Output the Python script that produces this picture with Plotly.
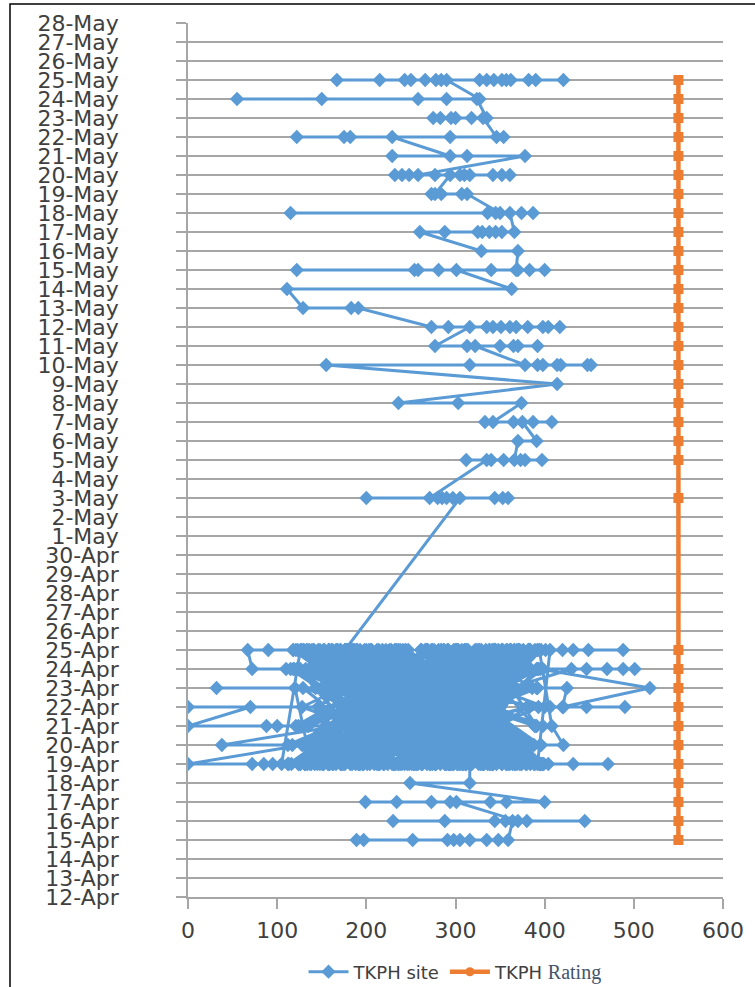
import plotly.graph_objects as go
import pandas as pd

# ---------------- data ----------------
# TKPH site, April part: day of April and value, in plotting order
apr_days = [
    15, 15, 15, 15, 15, 15, 15, 15, 15, 15,
    16, 16, 16, 16, 16, 16, 16, 16,
    17, 17, 17, 17, 17, 17, 17, 17,
    18, 18,
    # dense period 19-25 Apr
    19, 19, 19, 19, 25, 19, 24, 20, 25, 19, 23, 19, 25, 20, 24, 19, 25, 21, 25, 19,
    24, 20, 25, 19, 23, 20, 25, 19, 24, 19, 25, 21, 24, 19, 25, 20, 23, 19, 25, 22,
    19, 25, 20, 24, 19, 25, 21, 25, 19, 24,
    20, 25, 19, 23, 19, 25, 20, 24, 22, 19,
    25, 19, 24, 20, 25, 19, 23, 21, 25, 19,
    24, 19, 25, 20, 24, 19, 25, 22, 19, 25,
    21, 24, 19, 25, 20, 23, 19, 25, 19, 24,
    25, 20, 24, 19, 25, 21, 24, 19, 25, 20,
    19, 25, 20, 24, 19, 25, 21, 25, 19, 24,
    20, 25, 19, 23, 19, 25, 20, 24, 22, 19,
    25, 19, 24, 20, 25, 19, 23, 21, 25, 19,
    24, 19, 25, 20, 24, 19, 25, 22, 19, 25,
    19, 19, 19, 19, 19, 20, 25, 19, 24, 20, 25, 19, 24, 21, 25, 19, 23, 20, 25, 19,
    24, 21, 25, 19, 24, 20, 25, 19, 23, 19, 25, 20, 24, 19, 25, 21, 24, 19, 25, 20,
    20, 20, 21, 25, 19, 24, 20, 25, 19, 23, 19, 25, 21, 24, 19, 25, 20, 24, 19, 25,
    22, 22, 22, 21, 21, 21, 21, 25, 19, 24, 20, 25, 19, 23, 20, 25, 19, 24, 21, 25,
    21, 24, 19, 25, 20, 23, 19, 25, 19, 24,
    25, 20, 24, 19, 25, 21, 24, 19, 25, 20,
    19, 25, 20, 24, 19, 25, 21, 25, 19, 24,
    20, 25, 19, 23, 19, 25, 20, 24, 22, 19,
    25, 19, 24, 20, 25, 19, 23, 21, 25, 19,
    24, 19, 25, 20, 24, 19, 25, 22, 19, 25,
    21, 24, 19, 25, 20, 23, 19, 25, 19, 24,
    25, 20, 24, 19, 25, 21, 24, 19, 25, 20,
    19, 25, 20, 24, 19, 25, 21, 25, 19, 24,
    20, 25, 19, 23, 19, 25, 20, 24, 22, 19,
    19, 24, 20, 25, 19, 23, 23, 23, 24, 19, 25, 20, 24, 19, 25, 21, 24, 19, 25, 20,
    23, 19, 25, 21, 24, 19, 25, 20, 24, 19, 25, 22, 19, 24, 20, 25, 19, 23, 19, 25,
    21, 24, 19, 19, 19, 19, 19, 25, 20, 24, 19, 25, 21, 20, 20, 25, 19, 24, 20, 22,
    22, 22, 22, 22, 22, 24, 19, 25, 20, 24, 19, 25, 21, 24, 23, 22, 23, 23, 24, 19,
    25, 19, 24, 20, 25, 19, 23, 21, 25, 19,
    24, 19, 25, 20, 24, 19, 25, 22, 19, 25,
    21, 24, 19, 25, 20, 23, 19, 25, 19, 24,
    25, 20, 24, 19, 25, 21, 24, 19, 25, 20,
    19, 25, 20, 24, 19, 25, 21, 25, 19, 24,
    20, 25, 19, 23, 19, 25, 20, 24, 22, 19,
    25, 19, 24, 20, 25, 19, 23, 21, 25, 19,
    24, 19, 25, 20, 24, 19, 25, 22, 19, 25,
    21, 24, 19, 25, 20, 23, 19, 25, 19, 24,
    25, 20, 24, 19, 25, 21, 24, 19, 25, 20,
    25, 20, 24, 19, 25, 21, 24, 24, 24, 24, 24, 24, 19, 25, 20, 24, 19, 25, 23, 19,
    25, 21, 24, 19, 25, 25, 25, 25, 25, 25, 20, 24, 24, 24, 25, 25, 25, 25,
]
apr_values = [
    189, 197, 252, 291, 298, 305, 316, 335, 348, 359,
    364, 230, 288, 344, 356, 380, 445, 370,
    301, 294, 273, 234, 199, 339, 357, 400,
    249, 316,
    316, 330, 295, 262, 372, 188, 345, 152, 268, 388, 204, 142, 352, 274, 163, 361, 222, 306, 141, 283,
    392, 201, 312, 131, 368, 332, 193, 233, 281, 398, 123, 244, 354, 172, 401, 112, 262, 341, 171, 383,
    137, 284, 356, 201, 312, 148, 389, 226, 174, 331,
    263, 118, 342, 297, 209, 371, 156, 245, 318, 191,
    382, 229, 143, 307, 266, 359, 187, 334, 121, 278,
    214, 395, 161, 287, 348, 132, 303, 252, 369, 179,
    326, 147, 293, 238, 384, 169, 352, 206, 271, 115,
    361, 194, 249, 338, 127, 316, 272, 397, 184, 305,
    152, 343, 221, 376, 289, 139, 258, 324, 197, 364,
    283, 168, 395, 129, 236, 301, 377, 213, 146, 339,
    244, 374, 118, 259, 327, 192, 386, 154, 298, 231,
    319, 231, 177, 363, 142, 278, 218, 349, 262, 126,
    105, 95, 85, 72, 0, 128, 236, 214, 124, 362, 292, 152, 232, 391, 334, 258, 143, 302, 205, 318,
    178, 135, 376, 196, 304, 243, 158, 372, 318, 124, 247, 388, 145, 302, 212, 172, 376, 240, 287, 164,
    250, 38, 168, 358, 182, 262, 342, 134, 326, 236, 158, 322, 276, 196, 389, 184, 226, 336, 116, 274,
    200, 0, 70, 0, 88, 100, 214, 392, 268, 154, 314, 228, 176, 392, 138, 302, 352, 208, 352, 166,
    398, 136, 308, 186, 353, 247, 163, 291, 379, 203,
    171, 327, 264, 113, 382, 219, 336, 145, 241, 356,
    297, 183, 349, 224, 157, 392, 128, 273, 318, 207,
    133, 362, 238, 311, 196, 344, 289, 165, 393, 254,
    366, 214, 126, 384, 268, 151, 323, 236, 187, 342,
    228, 298, 371, 149, 315, 256, 198, 381, 134, 287,
    341, 122, 277, 203, 367, 174, 243, 312, 357, 162,
    189, 386, 155, 332, 233, 293, 141, 366, 276, 218,
    274, 167, 396, 241, 124, 338, 205, 281, 159, 373,
    117, 352, 212, 286, 394, 182, 361, 138, 329, 248,
    246, 366, 186, 338, 138, 120, 32, 150, 298, 294, 152, 372, 242, 204, 382, 124, 320, 384, 200, 282,
    172, 224, 262, 330, 132, 336, 310, 176, 384, 162, 232, 346, 312, 188, 222, 366, 126, 302, 272, 146,
    296, 258, 374, 404, 432, 471, 380, 284, 130, 352, 192, 394, 408, 421, 395, 244, 290, 170, 320, 380,
    406, 421, 447, 490, 400, 288, 148, 326, 254, 140, 364, 214, 262, 395, 518, 420, 425, 391, 342, 220,
    353, 251, 139, 372, 178, 306, 267, 222, 389, 131,
    206, 318, 383, 166, 296, 126, 345, 259, 193, 314,
    389, 197, 263, 329, 143, 376, 184, 307, 236, 156,
    158, 276, 344, 112, 357, 237, 296, 171, 384, 223,
    311, 136, 226, 393, 201, 269, 121, 348, 292, 179,
    246, 369, 172, 254, 331, 158, 378, 216, 128, 302,
    129, 304, 357, 186, 267, 399, 153, 283, 341, 219,
    337, 215, 153, 362, 119, 288, 234, 174, 367, 261,
    193, 391, 294, 141, 321, 227, 357, 133, 253, 384,
    382, 148, 231, 309, 176, 346, 271, 396, 162, 239,
    362, 158, 314, 346, 130, 224, 430, 447, 470, 488, 501, 398, 256, 300, 208, 222, 328, 190, 280, 166,
    344, 156, 272, 392, 406, 420, 432, 449, 488, 396, 296, 240, 110, 72, 67, 90, 118, 176,
]

# TKPH site, May part
may_days = [
    3, 3, 3, 3, 3, 3, 3, 3, 3, 3,
    5, 5, 5, 5, 5, 5, 5, 5,
    6, 6,
    7, 7, 7, 7, 7, 7,
    8, 8, 8,
    9,
    10, 10, 10, 10, 10, 10, 10, 10, 10,
    11, 11, 11, 11, 11, 11, 11,
    12, 12, 12, 12, 12, 12, 12, 12, 12, 12, 12, 12,
    13, 13, 13,
    14, 14,
    15, 15, 15, 15, 15, 15, 15, 15, 15, 15,
    16, 16,
    17, 17, 17, 17, 17, 17, 17, 17,
    18, 18, 18, 18, 18, 18, 18,
    19, 19, 19, 19, 19,
    20, 20, 20, 20, 20, 20, 20, 20, 20, 20, 20, 20,
    21, 21, 21, 21,
    22, 22, 22, 22, 22, 22, 22,
    23, 23, 23, 23, 23, 23, 23,
    24, 24, 24, 24, 24, 24,
    25, 25, 25, 25, 25, 25, 25, 25, 25, 25, 25, 25, 25, 25, 25, 25, 25,
]
may_values = [
    305, 359, 353, 344, 297, 290, 285, 280, 200, 271,
    335, 312, 340, 354, 378, 397, 373, 366,
    370, 391,
    375, 387, 408, 365, 333, 342,
    374, 303, 236,
    414,
    155, 316, 448, 452, 414, 418, 392, 398, 378,
    322, 313, 350, 365, 370, 392, 277,
    316, 335, 342, 351, 361, 368, 381, 398, 404, 417, 292, 273,
    191, 183, 129,
    111, 363,
    301, 281, 258, 254, 122, 340, 383, 400, 370, 368,
    370, 329,
    260, 288, 325, 330, 338, 345, 352, 366,
    361, 374, 387, 345, 336, 115, 350,
    313, 307, 284, 273, 277,
    294, 361, 352, 342, 316, 310, 305, 277, 232, 240, 248, 258,
    378, 313, 229, 294,
    229, 182, 175, 122, 294, 354, 346,
    331, 318, 300, 295, 283, 275, 335,
    324, 258, 150, 55, 290, 327,
    290, 284, 278, 266, 250, 243, 215, 167, 327, 335, 343, 352, 357, 362, 382, 390, 421,
]

# TKPH Rating
rating_dates = [
    "15-Apr", "16-Apr", "17-Apr", "18-Apr", "19-Apr", "20-Apr", "21-Apr", "22-Apr",
    "23-Apr", "24-Apr", "25-Apr", "3-May", "5-May", "6-May", "7-May", "8-May",
    "9-May", "10-May", "11-May", "12-May", "13-May", "14-May", "15-May", "16-May",
    "17-May", "18-May", "19-May", "20-May", "21-May", "22-May", "23-May", "24-May", "25-May",
]
rating_values = [550, 550, 550, 550, 550, 550, 550, 550, 550, 550, 550,
                 550, 550, 550, 550, 550, 550, 550, 550, 550, 550, 550,
                 550, 550, 550, 550, 550, 550, 550, 550, 550, 550, 550]

YEAR = "2015"


def to_date(label):
    return pd.to_datetime(label + "-" + YEAR, format="%d-%b-%Y").strftime("%Y-%m-%d")


site_dates = [to_date(f"{d}-Apr") for d in apr_days] + [to_date(f"{d}-May") for d in may_days]
site_values = apr_values + may_values
rating_y = [to_date(s) for s in rating_dates]

BLUE = "#5B9BD5"
ORANGE = "#ED7D31"
GRID = "#A6A6A6"
TXT = "#404040"
FONT = "DejaVu Sans"

fig = go.Figure()
fig.add_trace(go.Scatter(
    x=site_values, y=site_dates, mode="lines+markers", name="TKPH site",
    line=dict(color=BLUE, width=3),
    marker=dict(symbol="diamond", size=11, color=BLUE),
))
fig.add_trace(go.Scatter(
    x=rating_values, y=rating_y, mode="lines+markers", showlegend=False,
    line=dict(color=ORANGE, width=4.5),
    marker=dict(symbol="square", size=10, color=ORANGE),
))
fig.add_trace(go.Scatter(
    x=[None], y=[None], mode="lines+markers",
    name="TKPH <span style='font-family:Liberation Serif;font-size:20px;color:#44546A'>Rating</span>",
    line=dict(color=ORANGE, width=4.5),
    marker=dict(symbol="circle", size=9, color=ORANGE),
))

fig.update_layout(
    width=755, height=987, autosize=False,
    margin=dict(l=188, r=32, t=23, b=90),
    paper_bgcolor="white", plot_bgcolor="white",
    font=dict(family=FONT, color=TXT),
    showlegend=True,
    legend=dict(orientation="h", x=0.5, xanchor="center",
                yref="container", y=1 - 972 / 987, yanchor="middle",
                font=dict(family=FONT, size=18, color=TXT), itemwidth=40),
    xaxis=dict(range=[0, 600], dtick=100, tick0=0, showgrid=False, zeroline=False,
               ticks="outside", ticklen=10, tickwidth=1.5, tickcolor=GRID,
               showline=True, linecolor=GRID, linewidth=1.5, automargin=False,
               tickfont=dict(family=FONT, size=22, color=TXT), ticklabelstandoff=3),
    yaxis=dict(type="date", range=[to_date("12-Apr"), to_date("28-May")],
               tick0=to_date("12-Apr"), dtick=86400000, tickformat="%-d-%b",
               showgrid=True, gridcolor=GRID, gridwidth=1.5, zeroline=False,
               ticks="outside", ticklen=10, tickwidth=1.5, tickcolor=GRID,
               showline=True, linecolor=GRID, linewidth=1.5, automargin=False,
               tickfont=dict(family=FONT, size=22, color=TXT), ticklabelstandoff=53),
    shapes=[dict(type="rect", xref="paper", yref="paper",
                 x0=-0.3327, x1=1.08, y0=-0.12, y1=1.0217,
                 line=dict(color="black", width=1.5), fillcolor="rgba(0,0,0,0)")],
)

fig.write_html("out.html", config={"displayModeBar": False},
               post_script="document.body.style.margin='0';")
